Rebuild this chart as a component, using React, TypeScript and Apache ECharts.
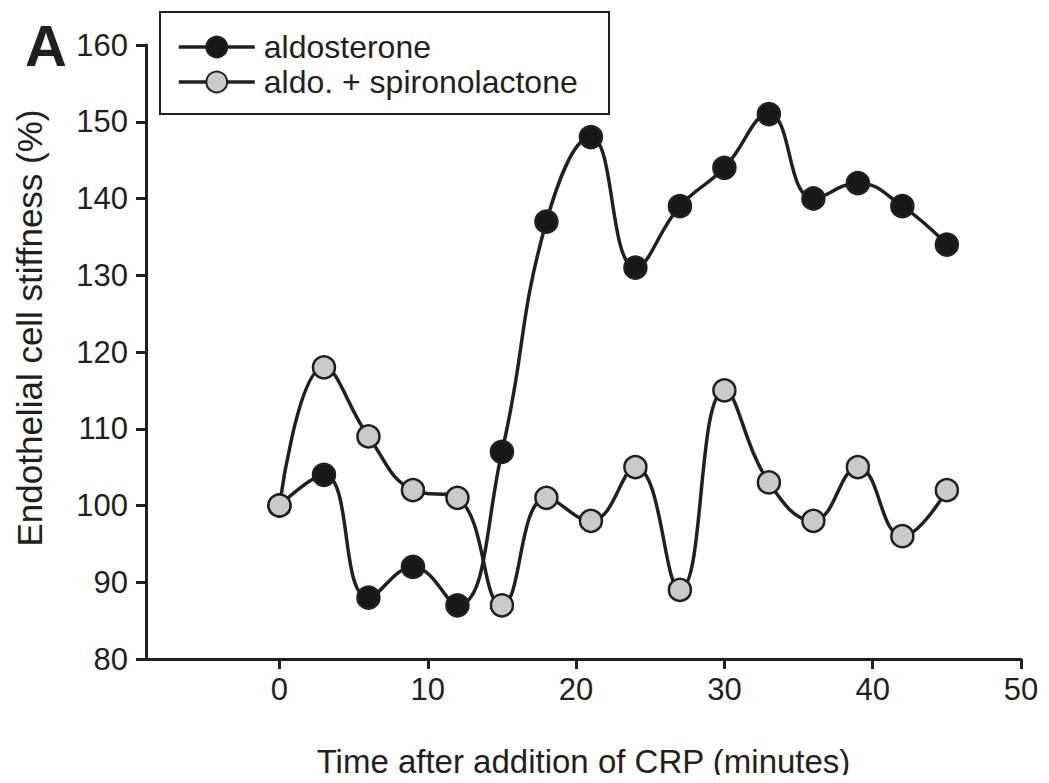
import React, { useEffect, useRef } from "react";
import * as echarts from "echarts";

const times = [0, 3, 6, 9, 12, 15, 18, 21, 24, 27, 30, 33, 36, 39, 42, 45];
const aldosterone = [100, 104, 88, 92, 87, 107, 137, 148, 131, 139, 144, 151, 140, 142, 139, 134];
const aldoSpiro = [100, 118, 109, 102, 101, 87, 101, 98, 105, 89, 115, 103, 98, 105, 96, 102];
const xTicks = [0, 10, 20, 30, 40, 50];
const seriesNames = ["aldosterone", "aldo. + spironolactone"];

const INK = "#231f20";
const FONT = "'Liberation Sans', Arial, sans-serif";

export default function App() {
  const ref = useRef<HTMLDivElement>(null);
  useEffect(() => {
    if (!ref.current) return;
    const chart = echarts.init(ref.current, undefined, { renderer: "svg" });
    const mk = (name: string, vals: number[], fill: string) => ({
      name,
      type: "line",
      data: times.map((t, i) => [t, vals[i]]),
      smooth: 0.45,
      symbol: "circle",
      symbolSize: 22,
      lineStyle: { color: INK, width: 3.5 },
      itemStyle: { color: fill, borderColor: INK, borderWidth: 2.5 },
      z: 3,
    });
    chart.setOption({
      animation: false,
      backgroundColor: "#ffffff",
      textStyle: { fontFamily: FONT, color: INK },
      grid: { left: 146, right: 28, top: 45, bottom: 124, containLabel: false },
      legend: {
        left: 172,
        top: 26,
        orient: "vertical",
        itemWidth: 76,
        itemHeight: 26,
        itemGap: 3,
        data: seriesNames,
        lineStyle: { color: INK, width: 3.5 },
        textStyle: { fontSize: 32, color: INK, fontFamily: FONT, padding: [0, 0, 0, 4] },
      },
      xAxis: {
        type: "value",
        min: -9,
        max: 50,
        name: "Time after addition of CRP (minutes)",
        nameLocation: "middle",
        nameGap: 86,
        nameTextStyle: { fontSize: 33, color: INK, fontFamily: FONT },
        splitLine: { show: false },
        axisLine: { onZero: false, lineStyle: { color: INK, width: 3 } },
        axisTick: { show: true, length: 10, lineStyle: { color: INK, width: 3 }, customValues: xTicks },
        axisLabel: { customValues: xTicks, fontSize: 31, color: INK, margin: 15, fontFamily: FONT },
      },
      yAxis: {
        type: "value",
        min: 80,
        max: 160,
        interval: 10,
        splitLine: { show: false },
        axisLine: { onZero: false, lineStyle: { color: INK, width: 3 } },
        axisTick: { show: true, length: 10, lineStyle: { color: INK, width: 3 } },
        axisLabel: { fontSize: 31, color: INK, margin: 18, fontFamily: FONT },
      },
      graphic: [
        {
          type: "rect",
          shape: { x: 160, y: 12, width: 449, height: 102 },
          style: { fill: "none", stroke: INK, lineWidth: 2 },
          z: 10,
        },
        {
          type: "text",
          x: 46,
          y: 45,
          style: {
            text: "A",
            font: `bold 58px ${FONT}`,
            fill: INK,
            textAlign: "center",
            textVerticalAlign: "middle",
          },
        },
        {
          type: "text",
          x: 29,
          y: 328,
          rotation: Math.PI / 2,
          style: {
            text: "Endothelial cell stiffness (%)",
            font: `35px ${FONT}`,
            fill: INK,
            textAlign: "center",
            textVerticalAlign: "middle",
          },
        },
      ],
      series: [mk(seriesNames[0], aldosterone, "#1a1718"), mk(seriesNames[1], aldoSpiro, "#c9cacc")],
    });
    return () => chart.dispose();
  }, []);
  return <div ref={ref} style={{ width: 1049, height: 783, margin: -8 }} />;
}
